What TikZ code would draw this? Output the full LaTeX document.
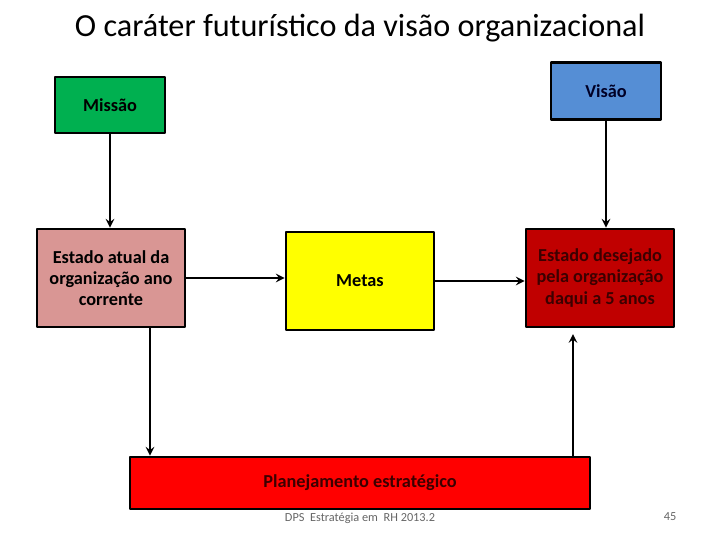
\documentclass[tikz,border=0pt]{standalone}
\usepackage{fontspec}
\setmainfont{Carlito}
\definecolor{verde}{RGB}{0,176,80}
\definecolor{azul}{RGB}{85,142,213}
\definecolor{rosa}{RGB}{217,150,148}
\definecolor{amarelo}{RGB}{255,255,0}
\definecolor{vinho}{RGB}{192,0,0}
\definecolor{vermelho}{RGB}{255,0,0}
\definecolor{escuro}{RGB}{60,0,0}
\begin{document}
\begin{tikzpicture}[x=0.025cm, y=-0.025cm, >=stealth, line join=round, font=\bfseries\fontsize{13}{15}\selectfont]
	\tikzset{caixa/.style={draw=black, line width=2pt, align=center, inner sep=2pt},
		seta/.style={->, line width=1.7pt}}
	\useasboundingbox (0,0) rectangle (720,540);
	\node[font=\fontsize{22.9}{27}\selectfont] (titulo) at (360,28) {O caráter futurístico da visão organizacional};
	% Caixas
	\node[caixa, fill=verde, minimum width=2.75cm, minimum height=1.4cm] (missao) at (110,105) {Missão};
	\node[caixa, fill=azul, minimum width=2.75cm, minimum height=1.42cm, text=black!85!blue] (visao) at (606,91) {Visão};
	\node[caixa, fill=rosa, minimum width=3.7cm, minimum height=2.45cm] (atual) at (111,278) {Estado atual da\\organização ano\\corrente};
	\node[caixa, fill=amarelo, minimum width=3.7cm, minimum height=2.45cm] (metas) at (360,281) {Metas};
	\node[caixa, fill=vinho, minimum width=3.7cm, minimum height=2.45cm, text=escuro] (desejado) at (600,278) {Estado desejado\\pela organização\\daqui a 5 anos};
	\node[caixa, fill=vermelho, minimum width=11.5cm, minimum height=1.3cm, text=escuro] (plan) at (360,483) {Planejamento estratégico};
	\node[font=\fontsize{8.75}{10}\selectfont, text=black!60] (rodape) at (360,518) {DPS\ \ Estratégia em\ \ RH 2013.2};
	\node[font=\fontsize{8.75}{10}\selectfont, text=black!60] (pagina) at (670,517) {45};
	% Setas
	\coordinate (esq) at (150,0);
	\coordinate (dir) at (573,0);
	\draw[seta] (missao.south) -- (missao.south |- atual.north);
	\draw[seta] (visao.south) -- (visao.south |- desejado.north);
	\draw[seta] (atual.east) -- (atual.east -| metas.west);
	\draw[seta] (metas.east) -- (metas.east -| desejado.west);
	\draw[seta] (atual.south -| esq) -- (plan.north -| esq);
	\draw[seta, shorten >=4pt] (plan.north -| dir) -- (desejado.south -| dir);
\end{tikzpicture}
\end{document}
